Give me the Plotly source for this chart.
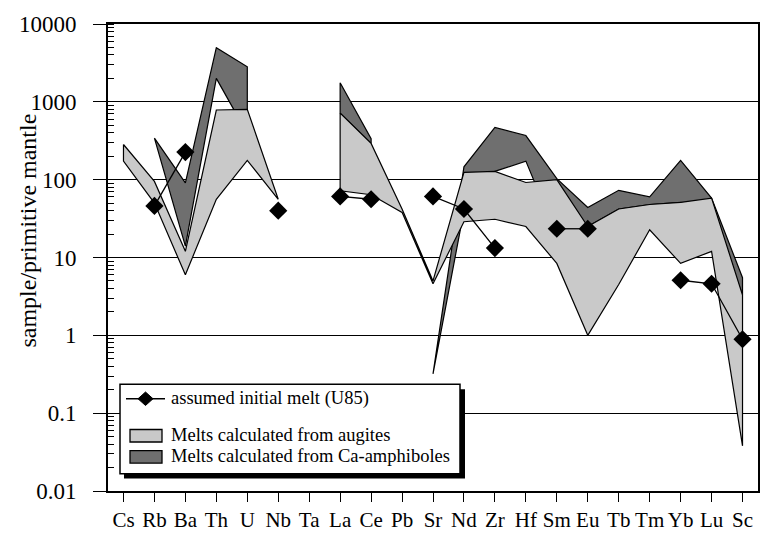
import plotly.graph_objects as go

elements = ["Cs", "Rb", "Ba", "Th", "U", "Nb", "Ta", "La", "Ce", "Pb", "Sr",
            "Nd", "Zr", "Hf", "Sm", "Eu", "Tb", "Tm", "Yb", "Lu", "Sc"]

# assumed initial melt (U85), normalised to primitive mantle
melt_u85 = [None, 46, 226, None, None, 40, None, 61, 56, None, 61,
            42, 13.2, None, 23.4, 23.4, None, None, 5.1, 4.6, 0.89]

# envelope of melts calculated from augites
augite_upper = [283, 95, 12, 785, 800, 58, None, 716, 292, 42, 5.0,
                124, 128, 92, 100, 25, 42, 48, 51, 58, 3.3]
augite_lower = [173, 50, 6, 56, 177, 56, None, 72, 64, 38, 4.6,
                28.8, 31, 25, 8.4, 1.0, 4.5, 22.7, 8.4, 12, 0.038]

# envelope of melts calculated from Ca-amphiboles
amph_upper = [None, 342, 91, 4970, 2820, None, None, 1760, 336, None, 0.32,
              146, 468, 369, 103, 44, 73, 60, 177, 58, 5.5]
amph_lower = [None, 330, 14, 2000, 390, None, None, 716, 292, None, 0.32,
              40, 128, 173, 19, 25, 42, 48, 51, 40, 3.3]

legend_labels = ["assumed initial melt (U85)",
                 "Melts calculated from augites",
                 "Melts calculated from Ca-amphiboles"]

AUGITE_FILL = "#c9c9c9"
AMPH_FILL = "#6f6f6f"
FONT = "Liberation Serif"

# plot-area geometry in pixels (used for the hand-built legend box)
L, R, T, B = 108, 758, 17, 503


def px(x):
    return (x - L) / (R - L)


def py(y):
    return (B - y) / (B - T)


def band_segments(upper, lower):
    """Split an envelope into contiguous runs and return closed polygons."""
    runs, cur = [], []
    for i, (u, l) in enumerate(zip(upper, lower)):
        if u is None or l is None:
            if cur:
                runs.append(cur)
            cur = []
        else:
            cur.append(i)
    if cur:
        runs.append(cur)
    polys = []
    for run in runs:
        xs = [elements[i] for i in run]
        ys_up = [upper[i] for i in run]
        ys_lo = [lower[i] for i in run]
        polys.append((xs + xs[::-1] + [xs[0]], ys_up + ys_lo[::-1] + [ys_up[0]]))
    return polys


fig = go.Figure()

for xs, ys in band_segments(amph_upper, amph_lower):
    fig.add_trace(go.Scatter(
        x=xs, y=ys, mode="lines", fill="toself", fillcolor=AMPH_FILL,
        line=dict(color="black", width=1.2), name=legend_labels[2],
        showlegend=False, hoverinfo="skip"))

for xs, ys in band_segments(augite_upper, augite_lower):
    fig.add_trace(go.Scatter(
        x=xs, y=ys, mode="lines", fill="toself", fillcolor=AUGITE_FILL,
        line=dict(color="black", width=1.2), name=legend_labels[1],
        showlegend=False, hoverinfo="skip"))

fig.add_trace(go.Scatter(
    x=elements, y=melt_u85, mode="lines+markers",
    line=dict(color="black", width=1.3),
    marker=dict(symbol="diamond", size=14, color="black"),
    connectgaps=False, name=legend_labels[0], showlegend=False))

# ---- legend box with drop shadow ----
shapes = [
    dict(type="rect", x0=px(124), x1=px(465), y0=py(490), y1=py(397),
         fillcolor="black", line=dict(width=0)),
    dict(type="rect", x0=px(120), x1=px(460), y0=py(485), y1=py(392),
         fillcolor="white", line=dict(color="black", width=1.5)),
    # line + diamond key
    dict(type="line", x0=px(126), x1=px(165), y0=py(407), y1=py(407),
         line=dict(color="black", width=1.5)),
    dict(type="path",
         path="M {a},{c} L {b},{d} L {e},{c} L {b},{f} Z".format(
             a=px(138), b=px(145.5), e=px(153), c=py(407), d=py(400), f=py(414)),
         fillcolor="black", line=dict(color="black", width=1)),
    # filled keys
    dict(type="rect", x0=px(130), x1=px(162), y0=py(452), y1=py(439),
         fillcolor=AUGITE_FILL, line=dict(color="black", width=1.3)),
    dict(type="rect", x0=px(130), x1=px(162), y0=py(474), y1=py(461),
         fillcolor=AMPH_FILL, line=dict(color="black", width=1.3)),
]
for s in shapes:
    s.update(xref="paper", yref="paper", layer="above")

annotations = [
    dict(text=lab, x=px(169), y=py(yc), xref="paper", yref="paper",
         xanchor="left", yanchor="middle", showarrow=False,
         font=dict(family=FONT, size=18.5, color="black"))
    for lab, yc in zip(legend_labels, [407, 445, 467])
]
annotations.append(dict(
    text="sample/primitive mantle", x=px(28), y=py(232), xref="paper", yref="paper",
    xanchor="center", yanchor="middle", textangle=-90, showarrow=False,
    font=dict(family=FONT, size=24, color="black")))

fig.update_layout(
    width=774, height=544,
    margin=dict(l=L, r=774 - R, t=T, b=544 - B),
    paper_bgcolor="white", plot_bgcolor="white",
    font=dict(family=FONT, color="black", size=20),
    showlegend=False,
    shapes=shapes, annotations=annotations,
)

fig.update_xaxes(
    type="category", categoryorder="array", categoryarray=elements,
    range=[-0.5, len(elements) - 0.5],
    showline=True, linecolor="black", linewidth=2, mirror=True,
    ticks="outside", ticklen=9, tickwidth=1.2, tickcolor="black",
    showgrid=False, zeroline=False,
    tickfont=dict(family=FONT, size=21))

fig.update_yaxes(
    type="log", range=[-2, 4],
    tickvals=[0.01, 0.1, 1, 10, 100, 1000, 10000],
    ticktext=["0.01", "0.1", "1", "10", "100", "1000", "10000"],
    showline=True, linecolor="black", linewidth=2, mirror=True,
    ticks="outside", ticklen=13, tickwidth=1.2, tickcolor="black",
    ticklabelstandoff=12,
    showgrid=True, gridcolor="black", gridwidth=1.3,
    zeroline=False,
    minor=dict(ticks="inside", ticklen=6, tickwidth=1, tickcolor="black",
               dtick="D1", showgrid=False),
    tickfont=dict(family=FONT, size=23))

fig.write_html("out.html")
